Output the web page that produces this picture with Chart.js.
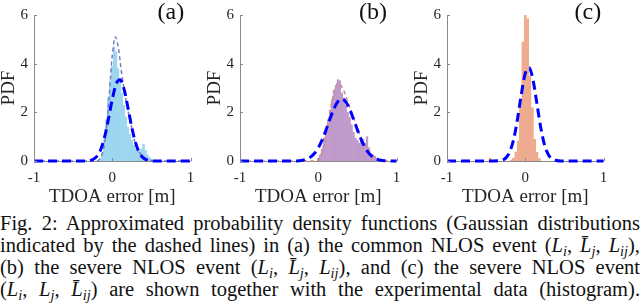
<!DOCTYPE html>
<html><head><meta charset="utf-8">
<script src="https://cdn.jsdelivr.net/npm/chart.js@4"></script>
<style>
html,body{margin:0;padding:0;background:#fff;}
body{width:640px;height:303px;position:relative;overflow:hidden;}
canvas{position:absolute;top:0;}
#cap{position:absolute;left:0;top:212px;width:640px;font-family:"Liberation Serif",serif;font-size:20.5px;line-height:22px;color:#111;}
#cap div{text-align:justify;text-align-last:justify;white-space:nowrap;}
#cap sub{font-size:0.7em;vertical-align:-0.25em;line-height:0;}
</style></head>
<body>
<canvas id="ca" width="210" height="208" style="left:0px"></canvas>
<canvas id="cb" width="210" height="208" style="left:206px"></canvas>
<canvas id="cc" width="210" height="208" style="left:413px"></canvas>
<div id="cap">
<div>Fig. 2: Approximated probability density functions (Gaussian distributions</div>
<div>indicated by the dashed lines) in (a) the common NLOS event (<i>L<sub>i</sub></i>, <i>L&#772;<sub>j</sub></i>, <i>L<sub>ij</sub></i>),</div>
<div>(b) the severe NLOS event (<i>L<sub>i</sub></i>, <i>L&#772;<sub>j</sub></i>, <i>L<sub>ij</sub></i>), and (c) the severe NLOS event</div>
<div>(<i>L<sub>i</sub></i>, <i>L<sub>j</sub></i>, <i>L&#772;<sub>ij</sub></i>) are shown together with the experimental data (histogram).</div>
</div>
<script>
// ---- data ----
const panelLabels = ['(a)', '(b)', '(c)'];
const panelLabelX = [0.75, 0.7, 0.8];
const xTicks = [-1, 0, 1];
const yTicks = [0, 2, 4, 6];

const histA_x = [-0.15,-0.125,-0.1,-0.075,-0.05,-0.025,0,0.025,0.05,0.075,0.1,0.125,0.15,0.175,0.2,0.225,0.25,0.275,0.3,0.325,0.35,0.375,0.4,0.425,0.45,0.475,0.5];
const histA_y = [0.1,0.35,0.9,1.7,2.6,3.3,3.9,4.7,4.5,3.8,3.4,2.8,2.3,1.8,1.4,1.1,0.85,0.65,0.5,0.42,0.4,0.5,0.7,0.45,0.25,0.15,0.07];
const gaussA_x = [-1,-0.4,-0.35,-0.3,-0.25,-0.2,-0.15,-0.1,-0.05,0,0.05,0.1,0.15,0.2,0.25,0.3,0.35,0.4,0.45,0.5,0.55,1];
const gaussA_y = [0,0,0.004,0.017,0.06,0.18,0.45,0.96,1.70,2.53,3.17,3.34,2.96,2.20,1.38,0.73,0.32,0.12,0.04,0.01,0,0];
const fitA_x = [-1,-0.2,-0.16,-0.12,-0.08,-0.04,0,0.04,0.08,0.12,0.16,0.2,0.24,0.28,0.32,0.36,0.4,0.44,0.5,0.56,1];
const fitA_y = [0,0,0.09,0.37,1.17,2.65,4.33,5.1,4.6,3.6,2.8,2.1,1.5,0.9,0.5,0.3,0.18,0.08,0.02,0,0];

const histB_x = [0,0.025,0.05,0.075,0.1,0.125,0.15,0.175,0.2,0.225,0.25,0.275,0.3,0.325,0.35,0.375,0.4,0.425,0.45,0.475,0.5,0.525,0.55,0.575,0.6,0.625,0.65,0.675,0.7,0.725,0.75,0.775];
const histB_y = [0.1,0.25,0.5,0.95,1.3,1.7,2.1,2.5,2.9,3.1,3.35,3.3,2.8,2.6,2.3,2.0,1.8,1.5,1.2,0.95,0.85,0.75,0.8,0.9,0.75,1.0,0.55,0.3,0.25,0.2,0.12,0.05];
const gaussB_x = [-1,-0.3,-0.25,-0.2,-0.15,-0.1,-0.05,0,0.05,0.1,0.15,0.2,0.25,0.3,0.35,0.4,0.45,0.5,0.55,0.6,0.65,0.7,0.75,0.8,0.85,0.9,1];
const gaussB_y = [0,0,0.01,0.03,0.08,0.16,0.31,0.54,0.87,1.28,1.73,2.14,2.44,2.55,2.44,2.14,1.73,1.28,0.87,0.54,0.31,0.16,0.08,0.03,0.01,0,0];
const fitB_x = [-1,-0.05,0,0.05,0.1,0.15,0.2,0.25,0.3,0.35,0.4,0.45,0.5,0.55,0.6,0.65,0.7,0.75,0.8,0.85,1];
const fitB_y = [0,0,0.05,0.4,1.1,2.0,2.8,3.2,3.05,2.7,2.25,1.8,1.35,0.95,0.65,0.4,0.22,0.1,0.04,0,0];

const histC_x = [-0.45,-0.42,-0.18,-0.15,-0.12,-0.09,-0.06,-0.03,0,0.03,0.06,0.09,0.12,0.15,0.18];
const histC_y = [0.12,0.05,0.05,0.12,0.37,0.83,2.45,4.9,6.0,5.85,3.5,2.2,0.9,0.37,0.1];
const gaussC_x = [-1,-0.4,-0.35,-0.3,-0.25,-0.2,-0.15,-0.1,-0.05,0,0.05,0.1,0.15,0.2,0.25,0.3,0.35,0.4,0.45,1];
const gaussC_y = [0,0,0.007,0.03,0.12,0.36,0.87,1.71,2.75,3.60,3.83,3.32,2.34,1.34,0.62,0.24,0.07,0.02,0,0];

// ---- styling ----
Chart.defaults.font.family = '"Liberation Serif", "Times New Roman", serif';
const AXIS = '#8a8a8a', TXT = '#262626';
const pts = (xs, ys) => xs.map((x, i) => ({x: x, y: ys[i]}));

const inTicks = {id:'inTicks', afterDatasetsDraw(c){
  const {ctx, chartArea:a, scales:{x, y}} = c;
  ctx.save(); ctx.strokeStyle = AXIS; ctx.lineWidth = 1; ctx.beginPath();
  y.ticks.forEach(t => {const p = Math.round(y.getPixelForValue(t.value)) + 0.5; ctx.moveTo(a.left, p); ctx.lineTo(a.left + 3, p);});
  x.ticks.forEach(t => {const p = Math.round(x.getPixelForValue(t.value)) + 0.5; ctx.moveTo(p, a.bottom); ctx.lineTo(p, a.bottom - 3);});
  ctx.stroke(); ctx.restore();
}};
const panelText = {id:'panelText', afterDraw(c, args, o){
  const ctx = c.ctx; ctx.save();
  ctx.font = '24px "Liberation Serif", serif'; ctx.fillStyle = '#111';
  ctx.textAlign = 'center'; ctx.textBaseline = 'alphabetic';
  ctx.fillText(o.text, c.scales.x.getPixelForValue(o.x), 19);
  ctx.restore();
}};

function make(id, k, hx, hy, hcol, gx, gy, fx, fy, fcol){
  const ds = [{type:'line', data:pts(gx, gy), borderColor:'#0000ff', borderWidth:3, borderDash:[9,5],
    pointRadius:0, cubicInterpolationMode:'monotone', fill:false, clip:false, order:0}];
  if (fx) ds.push({type:'line', data:pts(fx, fy), borderColor:fcol, borderWidth:1.5, borderDash:[4,3],
    pointRadius:0, cubicInterpolationMode:'monotone', fill:false, clip:false, order:1});
  ds.push({type:'bar', data:pts(hx, hy), backgroundColor:hcol, borderColor:hcol, borderWidth:0.5,
    barPercentage:1, categoryPercentage:1, grouped:false, order:2});
  new Chart(document.getElementById(id), {
    type:'bar',
    data:{datasets:ds},
    options:{
      responsive:false, animation:false,
      layout:{padding:{left:0, top:9, right:19.5, bottom:0}},
      plugins:{legend:{display:false}, tooltip:{enabled:false}, panelText:{text:panelLabels[k], x:panelLabelX[k]}},
      scales:{
        x:{type:'linear', min:-1, max:1, offset:false,
          afterBuildTicks: s => { s.ticks = xTicks.map(v => ({value:v})); },
          ticks:{font:{size:15}, color:TXT, padding:8, maxRotation:0},
          grid:{display:false, drawTicks:false}, border:{display:true, color:AXIS, width:1},
          title:{display:true, text:'TDOA error [m]', font:{size:19, lineHeight:1.2}, color:TXT, padding:0},
          afterFit: s => { s.height = 47; }},
        y:{type:'linear', min:0, max:6,
          afterBuildTicks: s => { s.ticks = yTicks.map(v => ({value:v})); },
          ticks:{font:{size:15}, color:TXT, padding:6},
          grid:{display:false, drawTicks:false}, border:{display:true, color:AXIS, width:1},
          title:{display:true, text:'PDF', font:{size:19, lineHeight:1}, color:TXT, padding:0},
          afterFit: s => { s.width = 34; }}
      }
    },
    plugins:[inTicks, panelText]
  });
}
make('ca', 0, histA_x, histA_y, '#9dd6f0', gaussA_x, gaussA_y, fitA_x, fitA_y, '#7b7bc0');
make('cb', 1, histB_x, histB_y, '#bf9acb', gaussB_x, gaussB_y, fitB_x, fitB_y, '#cf8a8a');
make('cc', 2, histC_x, histC_y, '#eeab8f', gaussC_x, gaussC_y, null, null, null);
</script>
</body></html>
